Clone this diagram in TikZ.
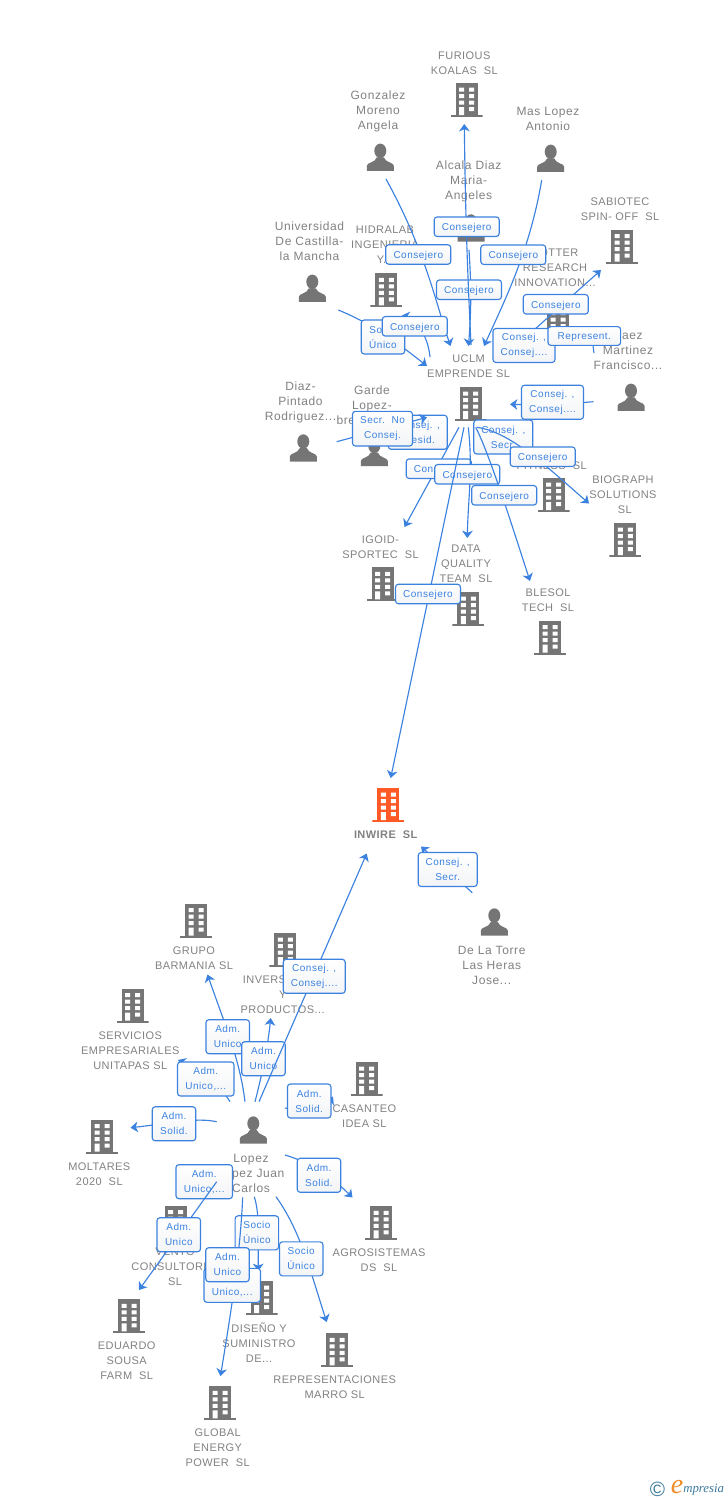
\documentclass[tikz,border=0pt]{standalone}
\usepackage{fontspec}
\setmainfont{Liberation Sans}
\newfontfamily\seriffont{Liberation Serif}
\newfontfamily\capsfont[LetterSpace=4]{Liberation Sans}
\newfontfamily\peoplefont[LetterSpace=5]{Liberation Sans}
\newfontfamily\tagfont[LetterSpace=5]{Liberation Sans}
\usetikzlibrary{arrows.meta}
\definecolor{linkblue}{HTML}{3B82E0}
\definecolor{icongrey}{HTML}{757575}
\definecolor{textgrey}{HTML}{828282}
\definecolor{hotorange}{HTML}{FF5A26}
\definecolor{boxfoot}{HTML}{F3F4F6}
\definecolor{logoteal}{HTML}{3C7A9E}
\definecolor{logoorange}{HTML}{F28C28}
\newdimen\px \px=0.75pt
\newcommand{\bldgicon}[1]{%
  \begin{scope}[shift={(path picture bounding box.center)}]
    \fill[#1] (-11,-17) rectangle (11,15);
    \fill[#1] (-16,15) rectangle (16,17);
    \fill[white] (-7.5,-12.5) rectangle (-2.5,-8.5) (2.5,-12.5) rectangle (7.5,-8.5)
      (-7.5,-6) rectangle (-2.5,-2) (2.5,-6) rectangle (7.5,-2)
      (-7.5,0.5) rectangle (-2.5,4.5) (2.5,0.5) rectangle (7.5,4.5)
      (-7.5,7) rectangle (-2.5,15) (2.5,7) rectangle (7.5,11);
  \end{scope}}
\newcommand{\personicon}{%
  \begin{scope}[shift={(path picture bounding box.center)}]
    \fill[icongrey] (0,-6.5) ellipse (6 and 7.2);
    \fill[icongrey] (-13.5,13.5) -- (-13.5,8.5) .. controls (-13.5,5) and (-5,5.5) .. (-3.5,0)
      -- (3.5,0) .. controls (5,5.5) and (13.5,5) .. (13.5,8.5) -- (13.5,13.5) -- cycle;
  \end{scope}}
\tikzset{
  bldg/.style={inner sep=0pt,minimum width=32\px,minimum height=34\px,path picture={\bldgicon{#1}}},
  bldg/.default=icongrey,
  person/.style={inner sep=0pt,minimum width=27\px,minimum height=27\px,path picture={\personicon}},
  lbl/.style={inner sep=0pt,align=center,text=textgrey,yshift=-1\px,font=\fontsize{8.25pt}{11.25pt}\capsfont},
  plbl/.style={inner sep=0pt,align=center,text=textgrey,yshift=-1\px,font=\fontsize{9pt}{11.25pt}\peoplefont},
  link/.style={draw=linkblue,line width=0.85pt,-{Stealth[length=5.5pt,width=8pt,inset=1.6pt]}},
  linkplain/.style={draw=linkblue,line width=0.85pt},
  tag/.style={draw=linkblue,line width=0.85pt,rounded corners=2.2pt,inner sep=0pt,align=center,
    top color=white,bottom color=boxfoot,text=linkblue,
    execute at begin node={\rule{0pt}{7.2pt}},
    font=\fontsize{7.5pt}{11.25pt}\tagfont},
  tagone/.style={tag,minimum width=65\px,minimum height=19.5\px},
  tagnarrow/.style={tag,minimum width=43.5\px,minimum height=34\px},
  tagmid/.style={tag,minimum width=59\px,minimum height=34\px},
  tagwide/.style={tag,minimum width=62\px,minimum height=34\px},
  tagwider/.style={tag,minimum width=56.5\px,minimum height=34\px},
}
\begin{document}
\begin{tikzpicture}[x=0.75pt,y=-0.75pt]
\useasboundingbox (0,0) rectangle (728,1500);
\fill[white] (0,0) rectangle (728,1500);

% ---- icons
\node[bldg] (furious) at (466.5,100) {};
\node[bldg] (sabiotec) at (622,246.7) {};
\node[bldg] (hidralab) at (386.3,290.3) {};
\node[bldg] (potter) at (558,317) {};
\node[bldg] (uclm) at (470.5,404) {};
\node[bldg] (fitness) at (553.7,495) {};
\node[bldg] (biograph) at (625.3,540) {};
\node[bldg] (igoid) at (382.7,584.3) {};
\node[bldg] (dataq) at (468.3,609) {};
\node[bldg] (blesol) at (550,637.7) {};
\node[bldg=hotorange] (inwire) at (388.3,805) {};
\node[bldg] (barmania) at (196,920.7) {};
\node[bldg] (inversiones) at (285.3,950) {};
\node[bldg] (unitapas) at (132.7,1005.7) {};
\node[bldg] (casanteo) at (366.7,1079) {};
\node[bldg] (moltares) at (102,1136.7) {};
\node[bldg] (vento) at (175.7,1222.7) {};
\node[bldg] (agro) at (381,1223.3) {};
\node[bldg] (diseno) at (261.7,1298) {};
\node[bldg] (eduardo) at (129,1316.3) {};
\node[bldg] (marro) at (337,1350.3) {};
\node[bldg] (globalp) at (220,1403.3) {};
\node[person] (gonzalez) at (380.3,157.3) {};
\node[person] (maslopez) at (550.7,158.3) {};
\node[person] (alcala) at (471,228) {};
\node[person] (universidad) at (312.3,288.3) {};
\node[person] (saez) at (631,397.3) {};
\node[person] (diaz) at (303.3,448) {};
\node[person] (garde) at (374.3,452.5) {};
\node[person] (delatorre) at (494.3,922) {};
\node[person] (lopez) at (253.3,1130) {};

% ---- labels
\node[lbl] (l-furious) at (464.3,62.5) {FURIOUS\\KOALAS\ \ SL};
\node[plbl] (l-gonzalez) at (378,110) {Gonzalez\\Moreno\\Angela};
\node[plbl] (l-maslopez) at (548,118) {Mas Lopez\\Antonio};
\node[plbl] (l-alcala) at (468.7,180) {Alcala Diaz\\Maria-\\Angeles};
\node[lbl] (l-sabiotec) at (620,208.5) {SABIOTEC\\SPIN- OFF\ \ SL};
\node[plbl] (l-universidad) at (309.5,240.5) {Universidad\\De Castilla-\\la Mancha};
\node[lbl] (l-hidralab) at (385,244) {HIDRALAB\\INGENIERIA\\Y...};
\node[lbl] (l-potter) at (555,267) {POTTER\\RESEARCH\\INNOVATION...};
\node[plbl] (l-saez) at (628,349.7) {Saez\\Martinez\\Francisco...};
\node[lbl] (l-uclm) at (468.5,365.5) {UCLM\\EMPRENDE SL};
\node[plbl] (l-diaz) at (300.5,401) {Diaz-\\Pintado\\Rodriguez...};
\node[plbl] (l-garde) at (372,404.7) {Garde\\Lopez-\\bre\hphantom{xxxxxxxx}};
\node[lbl] (l-fitness) at (551.7,465) {FITNESS\ \ SL};
\node[lbl] (l-biograph) at (623,494) {BIOGRAPH\\SOLUTIONS\\\ SL};
\node[lbl] (l-igoid) at (380.5,546) {IGOID-\\SPORTEC\ \ SL};
\node[lbl] (l-dataq) at (466,563) {DATA\\QUALITY\\TEAM\ \ SL};
\node[lbl] (l-blesol) at (548,599.5) {BLESOL\\TECH\ \ SL};
\node[lbl,font=\fontsize{8.25pt}{11.25pt}\capsfont\bfseries] (l-inwire) at (385.7,833.5) {INWIRE\ \ SL};
\node[lbl] (l-barmania) at (194,957.5) {GRUPO\\BARMANIA SL};
\node[plbl] (l-delatorre) at (491.7,964.7) {De La Torre\\Las Heras\\Jose...};
\node[lbl] (l-inversiones) at (282.7,994) {INVERSIONES\\Y\\PRODUCTOS...};
\node[lbl] (l-unitapas) at (130.3,1050) {SERVICIOS\\EMPRESARIALES\\UNITAPAS SL};
\node[lbl] (l-casanteo) at (364.3,1115.5) {CASANTEO\\IDEA SL};
\node[lbl] (l-moltares) at (99.3,1173.5) {MOLTARES\\2020\ \ SL};
\node[plbl] (l-lopez) at (251,1172.7) {Lopez\\Lopez Juan\\Carlos};
\node[lbl] (l-vento) at (175,1266) {VENTO\\CONSULTORES\\SL};
\node[lbl] (l-agro) at (379,1259) {AGROSISTEMAS\\DS\ \ SL};
\node[lbl] (l-diseno) at (259,1341.7) {DISEÑO Y\\SUMINISTRO\\DE...};
\node[lbl] (l-eduardo) at (126.7,1360) {EDUARDO\\SOUSA\\FARM\ \ SL};
\node[lbl] (l-marro) at (334.7,1386.5) {REPRESENTACIONES\\MARRO SL};
\node[lbl] (l-global) at (217.7,1447) {GLOBAL\\ENERGY\\POWER\ \ SL};

% ---- connector end points
\coordinate (gonzalez-out) at (386,179);
\coordinate (uclm-in-a) at (450.5,346);
\coordinate (maslopez-out) at (541.7,180);
\coordinate (uclm-in-c) at (484,346);
\coordinate (alcala-out) at (469,250);
\coordinate (uclm-in-b) at (468.5,346);
\coordinate (uclm-up) at (471,345);
\coordinate (furious-in) at (464.3,124);
\coordinate (universidad-out) at (338.3,310);
\coordinate (uclm-in-d) at (427,366);
\coordinate (uclm-left) at (430,357);
\coordinate (hidralab-in) at (402,315.5);
\coordinate (uclm-right) at (515,347);
\coordinate (sabiotec-in) at (601,270);
\coordinate (saez-up) at (594,353);
\coordinate (potter-in) at (592,338);
\coordinate (saez-out) at (593.3,401.7);
\coordinate (uclm-in-e) at (510,404.3);
\coordinate (diaz-out) at (336.7,441.7);
\coordinate (uclm-in-f) at (427,417.3);
\coordinate (garde-out) at (395,425);
\coordinate (uclm-in-g) at (428,417.5);
\coordinate (uclm-dl) at (459,427.3);
\coordinate (igoid-in) at (404.5,527);
\coordinate (uclm-dm) at (468.3,427.3);
\coordinate (dataq-in) at (467.3,538);
\coordinate (uclm-dn) at (464,427.3);
\coordinate (inwire-in) at (390.7,778);
\coordinate (uclm-dr) at (475.7,427.3);
\coordinate (blesol-in) at (530,581);
\coordinate (uclm-ds) at (477,427.3);
\coordinate (biograph-in) at (589,503.5);
\coordinate (fitness-in) at (525,440);
\coordinate (inwire-lopez) at (366.7,853.5);
\coordinate (lopez-a) at (259,1101.7);
\coordinate (delatorre-out) at (472.3,892.7);
\coordinate (inwire-tr) at (421,846.5);
\coordinate (lopez-b) at (245,1101.7);
\coordinate (barmania-in) at (207.5,974.5);
\coordinate (lopez-c) at (255,1101.7);
\coordinate (inversiones-in) at (270.7,1018);
\coordinate (lopez-d) at (230,1101.7);
\coordinate (unitapas-in) at (178,1060);
\coordinate (lopez-e) at (216.7,1121.7);
\coordinate (moltares-in) at (130.5,1127.7);
\coordinate (lopez-f) at (285,1108);
\coordinate (casanteo-in) at (333,1096.5);
\coordinate (lopez-g) at (285,1155);
\coordinate (agro-in) at (352.5,1197.5);
\coordinate (lopez-h) at (216.7,1181.7);
\coordinate (eduardo-in) at (139,1290);
\coordinate (lopez-i) at (254.3,1196.7);
\coordinate (diseno-in) at (258.3,1271);
\coordinate (lopez-j) at (242.7,1197.3);
\coordinate (global-in) at (220.5,1376);
\coordinate (lopez-k) at (276,1196.7);
\coordinate (marro-in) at (326.7,1322);

% ---- connectors and their tags, in drawing order
\draw[link] (alcala-out) to[bend left=4] (uclm-in-b);
\node[tagone] (t-alcala) at (469,289.7) {Consejero};
\draw[link] (uclm-up) to[bend left=1] (furious-in);
\node[tagone] (t-furious) at (466.7,226.7) {Consejero};
\draw[link] (gonzalez-out) .. controls (425,250) and (435,300) .. (uclm-in-a);
\node[tagone] (t-gonzalez) at (418.3,254.5) {Consejero};
\draw[link] (maslopez-out) .. controls (530,250) and (505,300) .. (uclm-in-c);
\node[tagone] (t-maslopez) at (513.3,254.7) {Consejero};
\draw[link] (universidad-out) .. controls (375,325) and (400,345) .. (uclm-in-d);
\node[tagnarrow] (t-universidad) at (383,337) {Socio\\Único};
\draw[link] (uclm-left) .. controls (428,335) and (415,318) .. (hidralab-in);
\node[tagone] (t-hidralab) at (414.8,326.3) {Consejero};
\draw[link] (uclm-right) -- (sabiotec-in);
\node[tagone] (t-sabiotec) at (555.8,304.3) {Consejero};
\node[tagwide] (t-potter) at (524,345.5) {Consej. ,\\Consej....};
\draw[linkplain] (saez-up) -- (potter-in);
\node[tagone,minimum width=72.7\px,minimum height=18.7\px] (t-saez-a) at (584.3,336) {Represent.};
\draw[link] (saez-out) to[bend left=3] (uclm-in-e);
\node[tagwide] (t-saez-b) at (552.5,402.3) {Consej. ,\\Consej....};
\draw[linkplain] (garde-out) -- (uclm-in-g);
\node[tagmid] (t-garde) at (417.8,432.3) {Consej. ,\\Presid.};
\draw[link] (diaz-out) -- (uclm-in-f);
\node[tagwider,minimum width=60\px,minimum height=34.7\px] (t-diaz) at (382.5,428.7) {Secr.\ \ No\\Consej.};
\draw[link] (uclm-dl) -- (igoid-in);
\node[tagone] (t-igoid) at (438.7,468.7) {Consejero};
\draw[link] (uclm-dm) .. controls (473,470) and (468,500) .. (dataq-in);
\node[tagone] (t-dataq) at (467.3,474.3) {Consejero};
\draw[linkplain] (uclm-ds) -- (fitness-in);
\node[tagmid] (t-fitness) at (503.3,437) {Consej. ,\\Secr.};
\draw[link] (uclm-dn) -- (inwire-in);
\node[tagone] (t-inwire) at (428,594) {Consejero};
\draw[link] (uclm-dr) .. controls (490,455) and (515,535) .. (blesol-in);
\node[tagone] (t-blesol) at (504.2,495.3) {Consejero};
\draw[link] (uclm-ds) .. controls (510,432) and (545,465) .. (biograph-in);
\node[tagone] (t-biograph) at (542.7,456.7) {Consejero};

\draw[link] (delatorre-out) -- (inwire-tr);
\node[tagmid] (t-delatorre) at (447.7,869.5) {Consej. ,\\Secr.};
\draw[link] (lopez-b) .. controls (240,1060) and (225,1025) .. (barmania-in);
\node[tagnarrow] (t-barmania) at (227.7,1036.7) {Adm.\\Unico};
\draw[link] (lopez-c) .. controls (262,1075) and (268,1045) .. (inversiones-in);
\node[tagnarrow] (t-inversiones) at (263.5,1058.7) {Adm.\\Unico};
\draw[link] (lopez-a) -- (inwire-lopez);
\node[tagwide] (t-inwire-b) at (314.2,976.3) {Consej. ,\\Consej....};
\draw[link] (lopez-d) .. controls (220,1085) and (200,1070) .. (unitapas-in);
\node[tagwider] (t-unitapas) at (205.8,1079) {Adm.\\Unico,...};
\draw[link] (lopez-e) .. controls (195,1117) and (165,1124) .. (moltares-in);
\node[tagnarrow] (t-moltares) at (174,1123.8) {Adm.\\Solid.};
\draw[link] (lopez-f) .. controls (305,1112) and (325,1110) .. (casanteo-in);
\node[tagnarrow] (t-casanteo) at (309.2,1101) {Adm.\\Solid.};
\draw[link] (lopez-g) .. controls (310,1162) and (335,1180) .. (agro-in);
\node[tagnarrow] (t-agro) at (319,1175.3) {Adm.\\Solid.};
\node[tagwider] (t-vento) at (204.2,1181.7) {Adm.\\Unico,...};
\draw[link] (lopez-h) -- (eduardo-in);
\node[tagnarrow] (t-eduardo) at (178.8,1234.7) {Adm.\\Unico};
\draw[link] (lopez-i) .. controls (260,1215) and (258,1240) .. (diseno-in);
\node[tagnarrow] (t-diseno) at (256.9,1232.8) {Socio\\Único};
\draw[link] (lopez-j) .. controls (240,1260) and (228,1330) .. (global-in);
\node[tagwider] (t-global) at (232.2,1285.3) {Adm.\\Unico,...};
\node[tagnarrow] (t-unico) at (227.5,1264.7) {Adm.\\Unico};
\draw[link] (lopez-k) .. controls (300,1230) and (310,1270) .. (marro-in);
\node[tagnarrow] (t-marro) at (301.2,1258.8) {Socio\\Único};

% ---- footer
\node[inner sep=0pt,text=logoteal,font=\fontsize{15.5pt}{16pt}\selectfont] (copyright) at (657.5,1489.5) {©};
\node[inner sep=0pt,text=logoorange,font=\fontsize{21pt}{21pt}\seriffont\itshape] (logo-e) at (677,1487) {e};
\node[inner sep=0pt,anchor=west,text=logoteal,font=\fontsize{9.6pt}{10pt}\seriffont\itshape] (logo) at (683,1490) {mpresia};
\end{tikzpicture}
\end{document}
